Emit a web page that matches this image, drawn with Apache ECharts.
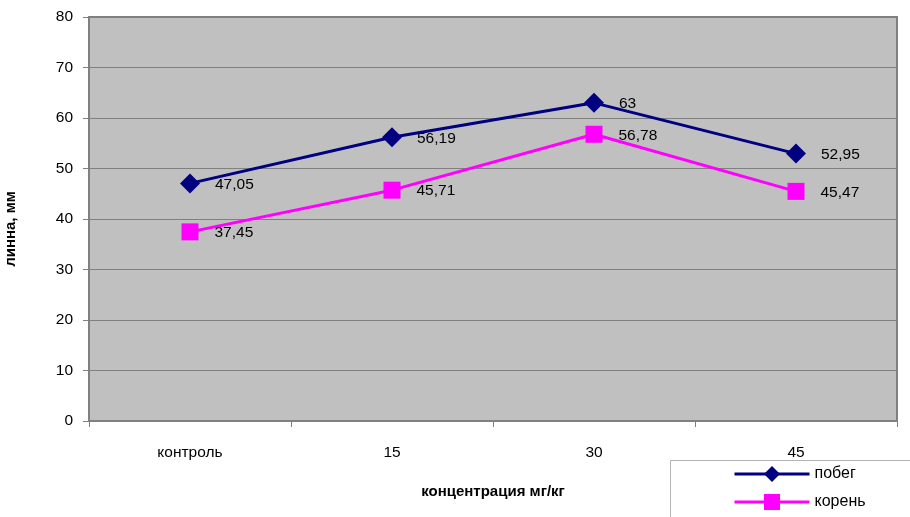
<!DOCTYPE html>
<html>
<head>
<meta charset="utf-8">
<script src="https://cdn.jsdelivr.net/npm/echarts@6/dist/echarts.min.js"></script>
<style>
  html, body { margin: 0; padding: 0; background: #fff; }
  #chart { width: 910px; height: 517px; }
</style>
</head>
<body>
<div id="chart"></div>
<script>
// Categories on the x axis (concentration)
const categories = ['контроль', '15', '30', '45'];
// Length values for each series
const shootValues = [47.05, 56.19, 63, 52.95];
const rootValues = [37.45, 45.71, 56.78, 45.47];
const shootName = 'побег';
const rootName = 'корень';
const xTitle = 'концентрация мг/кг';
const yTitle = 'линна, мм';

const FONT = '"Liberation Sans", Arial, sans-serif';

function commaLabel(p) {
  return String(p.value).replace('.', ',');
}

const chart = echarts.init(document.getElementById('chart'), null, { renderer: 'canvas' });

chart.setOption({
  animation: false,
  backgroundColor: '#ffffff',
  textStyle: { fontFamily: FONT },
  grid: {
    left: 89, top: 17, width: 808, height: 404,
    outerBoundsMode: 'none',
    containLabel: false,
    show: true,
    backgroundColor: '#c0c0c0',
    borderColor: '#808080',
    borderWidth: 2
  },
  graphic: [
    {
      type: 'rect',
      left: 670, top: 460,
      shape: { width: 260, height: 70 },
      style: { fill: '#ffffff', stroke: '#b4b4b4', lineWidth: 1 },
      z: 0
    },
    {
      // rotated y-axis title, partly running off the left edge
      type: 'text',
      x: 18, y: 229,
      rotation: Math.PI / 2,
      style: {
        text: yTitle,
        fontFamily: FONT, fontSize: 15, fontWeight: 'bold', fill: '#000',
        textAlign: 'center', textVerticalAlign: 'bottom'
      },
      z: 5
    }
  ],
  legend: {
    orient: 'vertical',
    left: 733, top: 466,
    padding: 0,
    itemWidth: 75, itemHeight: 20, itemGap: 12,
    lineStyle: { width: 3 },
    textStyle: { fontFamily: FONT, fontSize: 16, color: '#000' },
    data: [shootName, rootName],
    z: 10
  },
  xAxis: {
    type: 'category',
    data: categories,
    boundaryGap: true,
    name: xTitle,
    nameLocation: 'middle',
    nameGap: 63,
    nameTextStyle: { fontFamily: FONT, fontSize: 15, fontWeight: 'bold', color: '#000', verticalAlign: 'top' },
    axisLine: { show: true, lineStyle: { color: '#808080', width: 2 } },
    axisTick: { show: true, alignWithLabel: false, length: 6, lineStyle: { color: '#808080' } },
    axisLabel: { fontFamily: FONT, fontSize: 15.5, color: '#000', margin: 24 },
    splitLine: { show: false }
  },
  yAxis: {
    type: 'value',
    min: 0, max: 80, interval: 10,
    axisLine: { show: true, lineStyle: { color: '#808080', width: 2 } },
    axisTick: { show: true, length: 6, lineStyle: { color: '#808080' } },
    axisLabel: { fontFamily: FONT, fontSize: 15.5, color: '#000', margin: 16 },
    splitLine: { show: true, lineStyle: { color: '#808080', width: 1 } }
  },
  series: [
    {
      name: shootName,
      type: 'line',
      data: shootValues,
      symbol: 'diamond',
      symbolSize: 20,
      lineStyle: { color: '#000080', width: 3 },
      itemStyle: { color: '#000080' },
      label: {
        show: true, position: 'right', distance: 15,
        formatter: commaLabel,
        fontFamily: FONT, fontSize: 15.5, color: '#000', offset: [0, 1]
      },
      z: 3
    },
    {
      name: rootName,
      type: 'line',
      data: rootValues,
      symbol: 'rect',
      symbolSize: 17,
      lineStyle: { color: '#ff00ff', width: 3 },
      itemStyle: { color: '#ff00ff' },
      label: {
        show: true, position: 'right', distance: 16,
        formatter: commaLabel,
        fontFamily: FONT, fontSize: 15.5, color: '#000', offset: [0, 1]
      },
      z: 3
    }
  ]
});
</script>
</body>
</html>
